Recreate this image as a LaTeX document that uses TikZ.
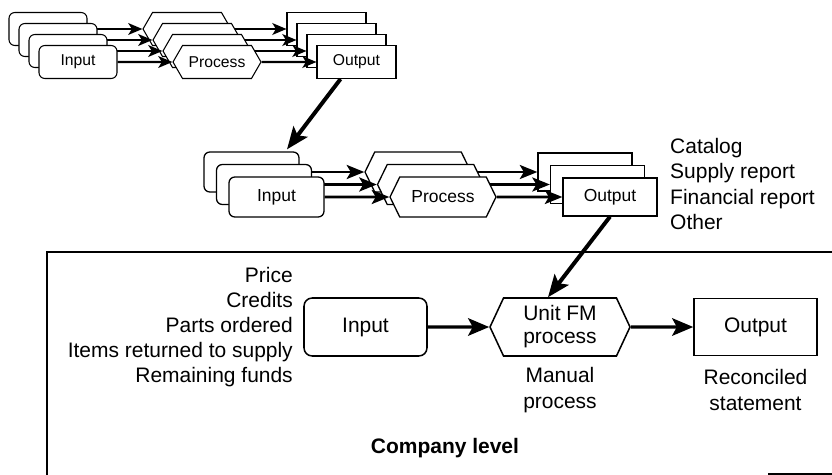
\documentclass[tikz,border=0pt]{standalone}
\usepackage{fontspec}
\setmainfont{Liberation Sans}
\usetikzlibrary{shapes.symbols, arrows.meta, positioning, calc}
\tikzset{
    % Base styles
    basebox/.style={draw, fill=white, align=center, inner sep=0pt},
    inputbox/.style={basebox, rectangle, rounded corners=5pt},
    procbox/.style={basebox, signal, signal to=west and east},
    outputbox/.style={basebox, rectangle},
    % Levels
    lvlone/.style={line width=0.9pt, minimum height=0.99cm, font=\fontsize{13.4}{15}\selectfont},
    lvltwo/.style={line width=1.1pt, minimum height=1.2cm, font=\fontsize{14.9}{17}\selectfont},
    lvlthree/.style={line width=1.3pt, minimum height=1.74cm, font=\fontsize{17.9}{19.6}\selectfont},
    % Specific node types
    inone/.style={inputbox, lvlone, minimum width=2.34cm},
    procone/.style={procbox, lvlone, minimum width=2.64cm, signal pointer angle=120},
    outone/.style={outputbox, lvlone, minimum width=2.37cm},
    intwo/.style={inputbox, lvltwo, minimum width=2.85cm},
    proctwo/.style={procbox, lvltwo, minimum width=3.18cm, signal pointer angle=128},
    outtwo/.style={outputbox, lvltwo, minimum width=2.82cm, minimum height=1.14cm},
    inthree/.style={inputbox, lvlthree, minimum width=3.69cm, rounded corners=7pt},
    procthree/.style={procbox, lvlthree, minimum width=4.2cm, signal pointer angle=130},
    outthree/.style={outputbox, lvlthree, minimum width=3.69cm, minimum height=1.71cm},
    % Arrows
    arrowone/.style={-{Stealth[length=12pt, width=10pt, inset=3pt]}, line width=1.9pt},
    arrowtwo/.style={-{Stealth[length=15pt, width=12pt, inset=3.5pt]}, line width=2.3pt},
    arrowthree/.style={-{Stealth[length=18pt, width=15pt, inset=4pt]}, line width=2.6pt},
    linkarrow/.style={-{Stealth[length=19pt, width=15pt, inset=4pt]}, line width=3.4pt},
    % Labels
    sidelabel/.style={inner sep=0pt, font=\fontsize{17.9}{21.5}\selectfont},
    framebox/.style={line width=1.2pt},
}

\begin{document}
\begin{tikzpicture}[x=0.03cm, y=-0.03cm]
\useasboundingbox (0,0) rectangle (832,475);

% Company level frame
\draw[framebox] (47,475) -- (47,252) -- (832,252);
\draw[framebox] (768,474) -- (832,474);

% Top level: stacked units
\foreach \k in {3,2,1} {
    \node[inone] (inA\k) at ($(78,62)+\k*(-10,-11)$) {};
    \node[procone] (procA\k) at ($(217,62)+\k*(-10,-11)$) {};
    \node[outone] (outA\k) at ($(356.5,62)+\k*(-10,-11)$) {};
    \draw[arrowone] (inA\k) -- (procA\k);
    \draw[arrowone] (procA\k) -- (outA\k);
}
\node[inone] (inA) at (78,62) {Input};
\node[procone] (procA) at (217,62) {Process};
\node[outone] (outA) at (356.5,62) {Output};
\draw[arrowone] (inA) -- (procA);
\draw[arrowone] (procA) -- (outA);

% Middle level: stacked units
\foreach \k in {2,1} {
    \node[intwo] (inB\k) at ($(276.5,197)+\k*(-12.5,-12.5)$) {};
    \node[proctwo] (procB\k) at ($(443,197)+\k*(-12.5,-12.5)$) {};
    \node[outtwo] (outB\k) at ($(610,197)+\k*(-12.5,-12.5)$) {};
    \draw[arrowtwo] (inB\k) -- (procB\k);
    \draw[arrowtwo] (procB\k) -- (outB\k);
}
\node[intwo] (inB) at (276.5,197) {Input};
\node[proctwo] (procB) at (443,197) {Process};
\node[outtwo] (outB) at (610,197) {Output};
\draw[arrowtwo] (inB) -- (procB);
\draw[arrowtwo] (procB) -- (outB);

\node[sidelabel, align=left, anchor=west] (outlist) at (670,184) {Catalog\\Supply report\\Financial report\\Other};

% Company level
\node[inthree] (input) at (365.5,327) {Input};
\node[procthree] (unitfm) at (560,327) {Unit FM\\process};
\node[outthree] (output) at (755.5,327) {Output};
\draw[arrowthree] (input) -- (unitfm);
\draw[arrowthree] (unitfm) -- (output);

\node[sidelabel, align=right, anchor=east] (inlist) at (293,327) {Price\\Credits\\Parts ordered\\Items returned to supply\\Remaining funds};
\node[sidelabel, align=center] (manual) at (560,390) {Manual\\process};
\node[sidelabel, align=center] (reconciled) at (755.5,390) {Reconciled\\statement};
\node[sidelabel, font=\fontsize{17.9}{21.5}\selectfont\bfseries] (company) at (445,448) {Company level};

% Links between levels
\draw[linkarrow] ($(outA.south)+(-16,0)$) -- ($(inB2.north)+(35.5,-2)$);
\draw[linkarrow] (outB.south) -- ($(unitfm.north)+(-12,0)$);

\end{tikzpicture}
\end{document}
